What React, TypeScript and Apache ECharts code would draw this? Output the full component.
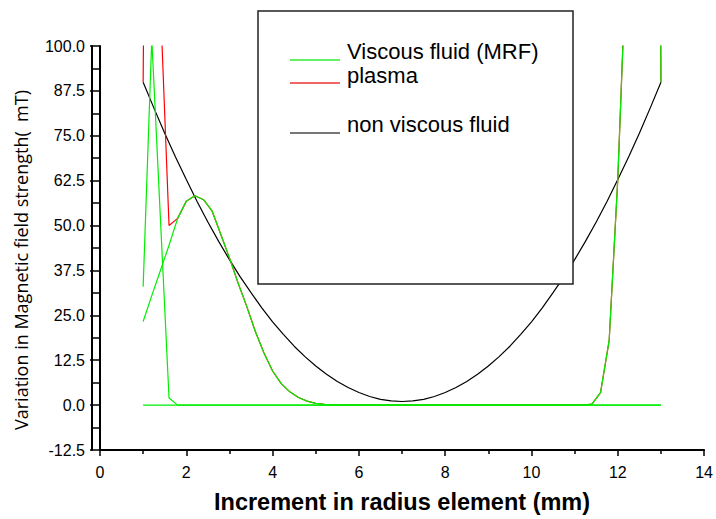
import React, { useEffect, useRef } from "react";
import * as echarts from "echarts";

// ---------- data ----------
// non viscous fluid (black)
const nonViscousX = [
  1, 1.25, 1.5, 1.75, 2, 2.25, 2.5, 2.75, 3, 3.25, 3.5, 3.75, 4, 4.25, 4.5, 4.75, 5, 5.25, 5.5, 5.75, 6, 6.25, 6.5, 6.75,
  7, 7.25, 7.5, 7.75, 8, 8.25, 8.5, 8.75, 9, 9.25, 9.5, 9.75, 10, 10.25, 10.5, 10.75, 11, 11.25, 11.5, 11.75, 12, 12.25,
  12.5, 12.75, 13,
];
const nonViscousY = [
  89.9, 82.7, 75.7, 69.1, 62.8, 56.7, 51.0, 45.6, 40.5, 35.7, 31.3, 27.1, 23.2, 19.7, 16.4, 13.5, 10.9, 8.6, 6.6, 4.9,
  3.5, 2.4, 1.6, 1.2, 1.0, 1.2, 1.6, 2.4, 3.5, 4.9, 6.6, 8.6, 10.9, 13.5, 16.4, 19.7, 23.2, 27.1, 31.3, 35.7, 40.5, 45.6,
  51.0, 56.7, 62.8, 69.1, 75.7, 82.7, 89.9,
];

// Viscous fluid (MRF) – spike branch
const spikeX = [1, 1.2, 1.4, 1.6, 1.8, 11.2, 11.4, 11.6, 11.8, 12, 12.2, 12.4, 12.6, 12.8, 13];
const spikeY = [33, 102, 52, 2, 0, 0, 0.3, 3.5, 18, 63, 126, 260, 420, 520, 90];

// Viscous fluid (MRF) – base line
const baseX = [1, 13];
const baseY = [0, 0];

// Viscous fluid (MRF) – bell branch
const bellX = [
  1, 1.2, 1.4, 1.6, 1.8, 2, 2.2, 2.4, 2.6, 2.8, 3, 3.2, 3.4, 3.6, 3.8, 4, 4.2, 4.4, 4.6, 4.8, 5, 5.2, 5.4, 5.6, 13,
];
const bellY = [
  23.3, 30.5, 37.5, 44.5, 52, 56.8, 58.3, 57.2, 54, 47.5, 41, 34, 27.5, 20.5, 14.5, 9.5, 6, 3.7, 2.1, 1.1, 0.5, 0.2, 0.05,
  0, 0,
];

// plasma (red)
const plasmaX = [
  1, 1.2, 1.4, 1.6, 1.8, 2, 2.2, 2.4, 2.6, 2.8, 3, 3.2, 3.4, 3.6, 3.8, 4, 4.2, 4.4, 4.6, 4.8, 5, 5.2, 5.4, 5.6, 11.2,
  11.4, 11.6, 11.8, 12, 12.2, 12.4, 12.6, 12.8, 13,
];
const plasmaY = [
  90, 400, 112, 50, 52, 56.8, 58.3, 57.2, 54, 47.5, 41, 34, 27.5, 20.5, 14.5, 9.5, 6, 3.7, 2.1, 1.1, 0.5, 0.2, 0.05, 0, 0,
  0.3, 3.5, 18, 63, 126, 260, 420, 520, 90,
];

const legendNames = ["Viscous fluid (MRF)", "plasma", "non viscous fluid"];

const pairs = (xs: number[], ys: number[]) => xs.map((x, i) => [x, ys[i]]);

const GREEN = "#00ee00";
const RED = "#ff0000";
const BLACK = "#000000";

export default function App() {
  const ref = useRef<HTMLDivElement>(null);

  useEffect(() => {
    if (!ref.current) return;
    const chart = echarts.init(ref.current, undefined, { renderer: "svg" });
    const axisFont = "'Liberation Sans', Arial, sans-serif";
    const legendFont = "22px 'Liberation Sans', Arial, sans-serif";
    const lineSeries = (name: string, data: number[][], color: string) => ({
      type: "line",
      name,
      data,
      symbol: "none",
      clip: true,
      lineStyle: { color, width: 1.2 },
      itemStyle: { color },
      z: 2,
    });

    chart.setOption({
      animation: false,
      backgroundColor: "#ffffff",
      grid: { left: 100, right: 6, top: 46, bottom: 62, containLabel: false },
      xAxis: {
        type: "value",
        min: 0,
        max: 14,
        interval: 2,
        axisLine: { show: true, onZero: false, lineStyle: { color: "#000", width: 2 } },
        axisTick: { show: true, length: 6, lineStyle: { color: "#000", width: 1.5 } },
        minorTick: { show: true, splitNumber: 2, length: 4, lineStyle: { color: "#000", width: 1.5 } },
        splitLine: { show: false },
        axisLabel: { color: "#000", fontSize: 16, fontFamily: axisFont, margin: 14 },
        name: "Increment in radius element (mm)",
        nameLocation: "middle",
        nameGap: 40,
        nameTextStyle: { color: "#000", fontSize: 23.5, fontWeight: "bold", fontFamily: axisFont },
      },
      yAxis: [
        {
          type: "value",
          min: -12.5,
          max: 100,
          interval: 12.5,
          axisLine: { show: true, onZero: false, lineStyle: { color: "#000", width: 2 } },
          axisTick: { show: true, length: 10, lineStyle: { color: "#000", width: 1.5 } },
          minorTick: { show: true, splitNumber: 2, length: 8, lineStyle: { color: "#000", width: 1.5 } },
          splitLine: { show: false },
          axisLabel: {
            color: "#000",
            fontSize: 16,
            fontFamily: axisFont,
            margin: 15,
            formatter: (v: number) => v.toFixed(1),
          },
          name: "Variation in Magnetic field strength(  mT)",
          nameLocation: "middle",
          nameGap: 70,
          nameTextStyle: {
            color: "#000",
            fontSize: 18,
            fontFamily: "'Open Sans', 'Noto Sans', sans-serif",
            padding: [0, 24, 0, 0],
          },
        },
        {
          type: "value",
          min: -12.5,
          max: 100,
          interval: 12.5,
          position: "left",
          offset: 8,
          axisLine: { show: true, onZero: false, lineStyle: { color: "#000", width: 2 } },
          axisTick: { show: false },
          axisLabel: { show: false },
          splitLine: { show: false },
        },
      ],
      series: [
        lineSeries(legendNames[2], pairs(nonViscousX, nonViscousY), BLACK),
        lineSeries(legendNames[1], pairs(plasmaX, plasmaY), RED),
        lineSeries(legendNames[0], pairs(baseX, baseY), GREEN),
        lineSeries(legendNames[0], pairs(bellX, bellY), GREEN),
        lineSeries(legendNames[0], pairs(spikeX, spikeY), GREEN),
      ],
      graphic: [
        {
          type: "rect",
          z: 100,
          shape: { x: 258, y: 11, width: 315, height: 273 },
          style: { fill: "#fff", stroke: "#222", lineWidth: 1.5 },
        },
        {
          type: "line",
          z: 101,
          shape: { x1: 290, y1: 60, x2: 340, y2: 60 },
          style: { stroke: "#66f066", lineWidth: 2 },
        },
        {
          type: "line",
          z: 101,
          shape: { x1: 290, y1: 83, x2: 340, y2: 83 },
          style: { stroke: "#f06666", lineWidth: 2 },
        },
        {
          type: "line",
          z: 101,
          shape: { x1: 290, y1: 133, x2: 340, y2: 133 },
          style: { stroke: "#777", lineWidth: 2 },
        },
        {
          type: "text",
          z: 101,
          x: 347,
          y: 51,
          style: { text: legendNames[0], fill: "#000", font: legendFont, verticalAlign: "middle" },
        },
        {
          type: "text",
          z: 101,
          x: 347,
          y: 75,
          style: { text: legendNames[1], fill: "#000", font: legendFont, verticalAlign: "middle" },
        },
        {
          type: "text",
          z: 101,
          x: 347,
          y: 124,
          style: { text: legendNames[2], fill: "#000", font: legendFont, verticalAlign: "middle" },
        },
      ],
    });

    return () => chart.dispose();
  }, []);

  return (
    <div
      ref={ref}
      style={{ position: "fixed", left: 0, top: 0, width: 716, height: 519, background: "#fff" }}
    />
  );
}
